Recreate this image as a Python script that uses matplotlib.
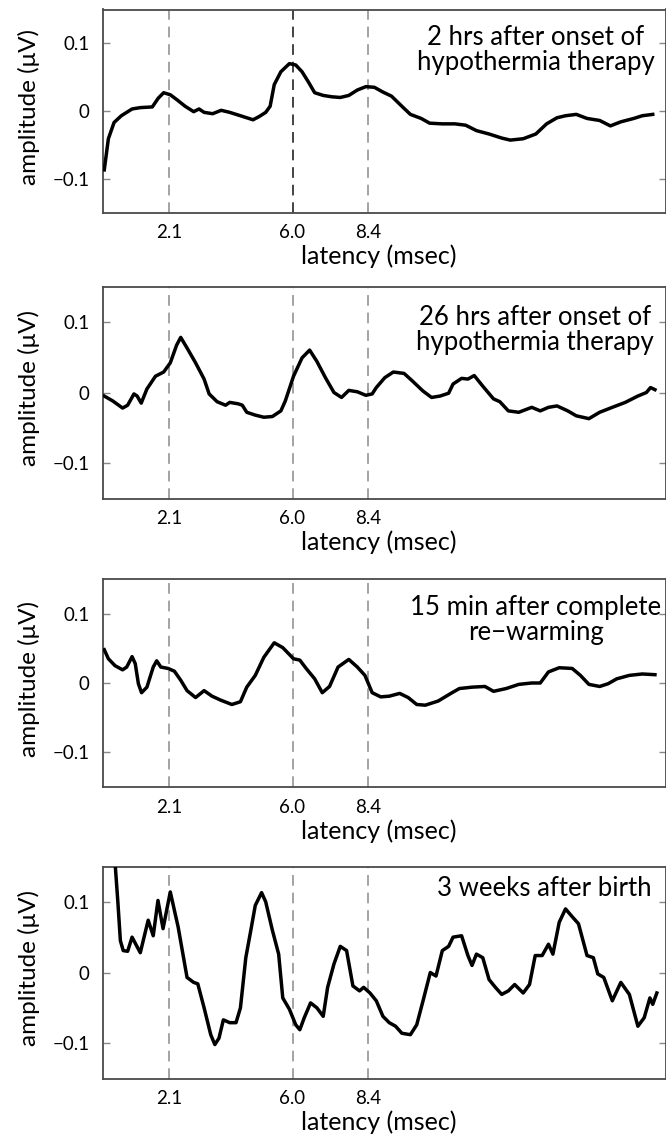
import matplotlib
matplotlib.use("Agg")
import matplotlib.pyplot as plt

W, H = 666, 1144
DPI = 100

# ---------------- data ----------------
x_ticks = [2.1, 6.0, 8.4]
x_tick_labels = ["2.1", "6.0", "8.4"]
y_ticks = [-0.1, 0.0, 0.1]
y_tick_labels = ["\u22120.1", "0", "0.1"]
x_label = "latency (msec)"
y_label = "amplitude (\u03bcV)"

titles = [
    "2 hrs after onset of\nhypothermia therapy",
    "26 hrs after onset of\nhypothermia therapy",
    "15 min after complete\nre\u2212warming",
    "3 weeks after birth",
]

# colour of the dashed marker lines (2.1, 6.0, 8.4) per panel
marker_colors = [
    ["#8a8a8a", "#111111", "#8a8a8a"],
    ["#8a8a8a", "#8a8a8a", "#8a8a8a"],
    ["#8a8a8a", "#8a8a8a", "#8a8a8a"],
    ["#8a8a8a", "#8a8a8a", "#8a8a8a"],
]

t1 = [0.04, 0.17, 0.35, 0.58, 0.92, 1.18, 1.56, 1.75, 1.92, 2.13, 2.33, 2.60, 2.87, 3.04,
      3.20, 3.47, 3.74, 4.01, 4.35, 4.75, 4.95, 5.15, 5.29, 5.42, 5.63, 5.90, 6.10, 6.30,
      6.50, 6.70, 6.97, 7.24, 7.51, 7.78, 8.05, 8.32, 8.59, 8.86, 9.13, 9.46, 9.73, 10.07,
      10.34, 10.74, 11.14, 11.48, 11.82, 12.22, 12.62, 12.89, 13.30, 13.70, 14.04, 14.37,
      14.64, 14.98, 15.32, 15.72, 16.06, 16.39, 16.80, 17.07, 17.40]
v1 = [-0.087, -0.041, -0.017, -0.007, 0.003, 0.005, 0.006, 0.019, 0.027, 0.024, 0.017,
      0.007, -0.001, 0.003, -0.002, -0.004, 0.001, -0.002, -0.007, -0.013, -0.008, -0.002,
      0.007, 0.039, 0.058, 0.070, 0.068, 0.058, 0.043, 0.027, 0.023, 0.021, 0.020, 0.023,
      0.031, 0.036, 0.035, 0.028, 0.022, 0.007, -0.005, -0.011, -0.018, -0.019, -0.019,
      -0.021, -0.029, -0.034, -0.040, -0.043, -0.041, -0.034, -0.019, -0.010, -0.007,
      -0.005, -0.011, -0.014, -0.022, -0.016, -0.011, -0.007, -0.005]

t2 = [0.04, 0.31, 0.62, 0.78, 0.98, 1.08, 1.21, 1.39, 1.66, 1.92, 2.13, 2.33, 2.46, 2.66,
      2.93, 3.20, 3.36, 3.61, 3.88, 4.01, 4.28, 4.41, 4.55, 4.82, 5.09, 5.36, 5.63, 5.77,
      6.03, 6.30, 6.54, 6.77, 7.04, 7.31, 7.55, 7.78, 8.05, 8.32, 8.52, 8.65, 8.92, 9.19,
      9.53, 9.80, 10.13, 10.40, 10.67, 10.94, 11.08, 11.35, 11.55, 11.75, 12.02, 12.36,
      12.56, 12.83, 13.16, 13.57, 13.84, 14.10, 14.37, 14.71, 14.98, 15.38, 15.72, 16.12,
      16.53, 16.93, 17.20, 17.33, 17.47]
v2 = [-0.005, -0.012, -0.022, -0.018, -0.002, -0.005, -0.015, 0.005, 0.023, 0.029, 0.042,
      0.067, 0.078, 0.063, 0.042, 0.019, -0.002, -0.013, -0.018, -0.014, -0.016, -0.018,
      -0.028, -0.032, -0.035, -0.034, -0.026, -0.012, 0.023, 0.049, 0.060, 0.044, 0.021,
      0.000, -0.007, 0.003, 0.001, -0.004, -0.002, 0.007, 0.021, 0.029, 0.027, 0.016,
      0.002, -0.007, -0.005, -0.001, 0.012, 0.020, 0.019, 0.024, 0.009, -0.009, -0.013,
      -0.026, -0.028, -0.021, -0.026, -0.021, -0.019, -0.026, -0.033, -0.037, -0.028,
      -0.021, -0.014, -0.005, 0.000, 0.007, 0.004]

t3 = [0.04, 0.17, 0.38, 0.62, 0.75, 0.92, 1.02, 1.12, 1.22, 1.39, 1.59, 1.70, 1.83, 2.06,
      2.26, 2.46, 2.66, 2.93, 3.20, 3.45, 3.74, 4.08, 4.35, 4.55, 4.82, 5.09, 5.42, 5.69,
      6.03, 6.23, 6.43, 6.70, 6.94, 7.17, 7.44, 7.78, 8.05, 8.29, 8.52, 8.79, 9.06, 9.39,
      9.66, 9.93, 10.20, 10.61, 11.01, 11.28, 11.68, 12.09, 12.36, 12.76, 13.16, 13.57,
      13.84, 14.10, 14.44, 14.85, 15.11, 15.38, 15.72, 15.99, 16.26, 16.66, 17.07, 17.47]
v3 = [0.048, 0.035, 0.025, 0.019, 0.023, 0.038, 0.028, -0.001, -0.014, -0.006, 0.023,
      0.032, 0.023, 0.021, 0.017, 0.004, -0.011, -0.021, -0.011, -0.019, -0.025, -0.031,
      -0.027, -0.006, 0.011, 0.037, 0.058, 0.051, 0.035, 0.033, 0.021, 0.006, -0.014,
      -0.005, 0.023, 0.034, 0.023, 0.011, -0.014, -0.020, -0.019, -0.015, -0.021, -0.031,
      -0.032, -0.026, -0.015, -0.008, -0.006, -0.005, -0.012, -0.008, -0.002, 0.000,
      0.000, 0.016, 0.022, 0.021, 0.011, -0.002, -0.005, -0.001, 0.006, 0.011, 0.013,
      0.012]

t4 = [0.32, 0.39, 0.47, 0.55, 0.64, 0.78, 0.92, 1.18, 1.43, 1.59, 1.74, 1.90, 2.13, 2.38,
      2.66, 2.87, 3.00, 3.20, 3.41, 3.54, 3.67, 3.81, 4.01, 4.21, 4.35, 4.52, 4.68, 4.82,
      5.02, 5.15, 5.36, 5.56, 5.69, 5.90, 6.10, 6.23, 6.37, 6.57, 6.77, 6.97, 7.11, 7.31,
      7.51, 7.71, 7.91, 8.12, 8.25, 8.45, 8.65, 8.86, 9.06, 9.26, 9.46, 9.73, 9.93, 10.13,
      10.36, 10.54, 10.74, 10.94, 11.08, 11.35, 11.55, 11.68, 11.82, 12.02, 12.22, 12.42,
      12.62, 12.83, 13.03, 13.30, 13.50, 13.68, 13.90, 14.10, 14.24, 14.44, 14.64, 14.85,
      15.05, 15.32, 15.52, 15.66, 15.85, 16.12, 16.39, 16.66, 16.93, 17.13, 17.31, 17.40,
      17.53]
v4 = [0.19, 0.15, 0.10, 0.045, 0.031, 0.030, 0.050, 0.028, 0.074, 0.052, 0.102, 0.062,
      0.114, 0.064, -0.007, -0.014, -0.016, -0.050, -0.088, -0.102, -0.093, -0.067, -0.071,
      -0.071, -0.050, 0.021, 0.060, 0.095, 0.113, 0.100, 0.060, 0.026, -0.036, -0.052,
      -0.074, -0.081, -0.064, -0.043, -0.050, -0.062, -0.021, 0.012, 0.037, 0.031, -0.019,
      -0.026, -0.021, -0.029, -0.040, -0.062, -0.071, -0.076, -0.086, -0.088, -0.074,
      -0.040, 0.000, -0.005, 0.031, 0.037, 0.050, 0.052, 0.024, 0.010, 0.026, 0.021,
      -0.010, -0.021, -0.031, -0.026, -0.017, -0.029, -0.017, 0.024, 0.024, 0.040, 0.026,
      0.071, 0.090, 0.079, 0.069, 0.024, 0.021, -0.002, -0.007, -0.040, -0.014, -0.031,
      -0.076, -0.064, -0.036, -0.045, -0.029]

traces = [(t1, v1), (t2, v2), (t3, v3), (t4, v4)]

# ---------------- layout (pixels) ----------------
ax_left_px, ax_right_px = 103, 666
panel_px = [(9.5, 212.5), (286.5, 498.5), (579, 787), (866.5, 1078.5)]
title_pos_px = [(536, 50), (535, 330), (536, 620), (544, 889)]
xlabel_top_offset_px = 32     # below axis bottom
ylabel_x_px = 40

plt.rcParams["font.family"] = ["Lato", "DejaVu Sans"]
fig = plt.figure(figsize=(W / DPI, H / DPI), dpi=DPI)
fig.patch.set_facecolor("white")

spine_col = "#4a4a4a"
axw = ax_right_px - ax_left_px
for i, (top, bot) in enumerate(panel_px):
    axh = bot - top
    ax = fig.add_axes([ax_left_px / W, 1 - bot / H, axw / W, axh / H])
    t, v = traces[i]
    for xt, c in zip(x_ticks, marker_colors[i]):
        ax.axvline(xt, color=c, lw=1.1, ls=(0, (7, 4.5)), zorder=1)
    ax.plot(t, v, color="black", lw=2.5, solid_joinstyle="round", zorder=3)
    ax.set_xlim(0, 17.82)
    ax.set_ylim(-0.15, 0.15)
    ax.set_xticks(x_ticks)
    ax.set_xticklabels(x_tick_labels)
    ax.set_yticks(y_ticks)
    ax.set_yticklabels(y_tick_labels)
    ax.tick_params(axis="x", length=0, pad=8.5, labelsize=13.5)
    ax.tick_params(axis="y", direction="in", length=5, width=1, color="#888888",
                   right=True, pad=9.5, labelsize=13.5)
    for s in ax.spines.values():
        s.set_color(spine_col)
        s.set_linewidth(1.3)
    ax.set_xlabel(x_label, fontsize=18)
    ax.xaxis.set_label_coords(0.49, -xlabel_top_offset_px / axh)
    ax.set_ylabel(y_label, fontsize=17.5)
    ax.yaxis.set_label_coords(-(ax_left_px - ylabel_x_px) / axw, 0.52)
    tx, ty = title_pos_px[i]
    fig.text(tx / W, 1 - ty / H, titles[i], ha="center", va="center",
             fontsize=18.5, linespacing=0.98)

fig.savefig("out.png", dpi=DPI)
